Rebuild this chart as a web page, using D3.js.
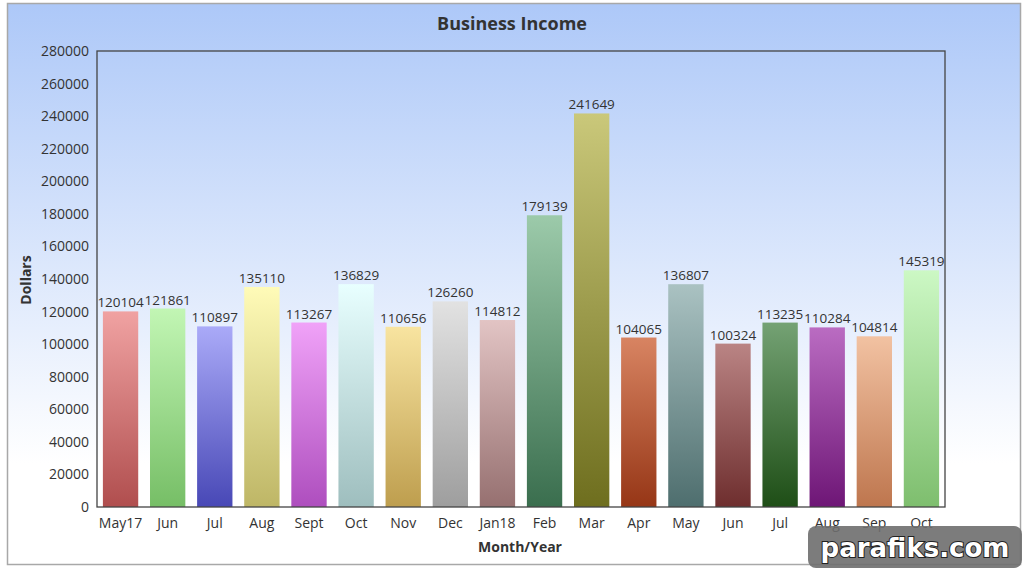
<!DOCTYPE html>
<html><head><meta charset="utf-8">
<script src="https://cdn.jsdelivr.net/npm/d3@7"></script>
<style>body{margin:0;background:#fff}svg{display:block;font-family:"Open Sans",sans-serif}</style>
</head><body><svg id="c" width="1024" height="572"></svg>
<script>
const categories = ["May17","Jun","Jul","Aug","Sept","Oct","Nov","Dec","Jan18","Feb","Mar","Apr","May","Jun","Jul","Aug","Sep","Oct"];
const values = [120104,121861,110897,135110,113267,136829,110656,126260,114812,179139,241649,104065,136807,100324,113235,110284,104814,145319];
const topColors = ["#f0a2a2","#c2f6b4","#aaaaf8","#fffbb8","#f0a2f8","#e8ffff","#f8e4a0","#e2e2e2","#e2c4c4","#9ccaaa","#cac87a","#d88462","#aac2c2","#ba8484","#74a274","#ba6cc2","#f2c2a2","#ccf8c4"];
const bottomColors = ["#b04e4e","#76be66","#4848b6","#beb666","#ae4ebe","#9ebebe","#be9e4e","#9e9e9e","#967070","#3a6e4e","#6e6e1e","#963616","#4e6e6e","#6e2e2e","#1e4e16","#6e1676","#be764e","#7ebe6e"];
const yTicks = d3.range(0, 280001, 20000);

const svg = d3.select("#c");
const m = {l:97, r:945, t:51, b:507};
const defs = svg.append("defs");
const bg = defs.append("linearGradient").attr("id","bg").attr("x1",0).attr("y1",0).attr("x2",0).attr("y2",1);
bg.append("stop").attr("offset","0%").attr("stop-color","#adc8f8");
bg.append("stop").attr("offset","82%").attr("stop-color","#ffffff");
bg.append("stop").attr("offset","100%").attr("stop-color","#ffffff");
svg.append("rect").attr("x",7.5).attr("y",3.5).attr("width",1013).attr("height",561).attr("fill","url(#bg)").attr("stroke","#a8a8a8").attr("stroke-width",1.5);

const x = d3.scaleBand().domain(d3.range(categories.length)).range([m.l, m.r]).paddingInner(0.25).paddingOuter(0.125);
const y = d3.scaleLinear().domain([0,280000]).range([m.b, m.t]);

categories.forEach((c,i)=>{
  const g = defs.append("linearGradient").attr("id","g"+i).attr("x1",0).attr("y1",0).attr("x2",0).attr("y2",1);
  g.append("stop").attr("offset","0%").attr("stop-color",topColors[i]);
  g.append("stop").attr("offset","100%").attr("stop-color",bottomColors[i]);
});

svg.append("g").selectAll("rect").data(values).join("rect")
  .attr("x",(d,i)=>x(i)).attr("width",x.bandwidth())
  .attr("y",d=>y(d)).attr("height",d=>y(0)-y(d))
  .attr("fill",(d,i)=>"url(#g"+i+")");

svg.append("g").selectAll("text").data(values).join("text")
  .attr("x",(d,i)=>x(i)+x.bandwidth()/2).attr("y",d=>y(d)-4)
  .attr("text-anchor","middle").attr("font-size",13.5).attr("fill","#333").text(d=>d);

svg.append("rect").attr("x",m.l).attr("y",m.t).attr("width",m.r-m.l).attr("height",m.b-m.t)
  .attr("fill","none").attr("stroke","#444").attr("stroke-width",1.3);

const ya = svg.append("g").attr("transform",`translate(${m.l},0)`)
  .call(d3.axisLeft(y).tickValues(yTicks).tickSize(0).tickPadding(8).tickFormat(d3.format("d")));
ya.select(".domain").remove();
ya.selectAll("text").attr("font-size",14).attr("fill","#333").attr("font-family","'Open Sans',sans-serif");

const xa = svg.append("g").attr("transform",`translate(0,${m.b})`)
  .call(d3.axisBottom(x).tickSize(0).tickPadding(11).tickFormat(i=>categories[i]));
xa.select(".domain").remove();
xa.selectAll("text").attr("font-size",14).attr("fill","#333").attr("font-family","'Open Sans',sans-serif");

svg.append("text").attr("x",512).attr("y",30).attr("text-anchor","middle").attr("font-size",18).attr("font-weight","bold").attr("fill","#333").text("Business Income");
svg.append("text").attr("x",520).attr("y",552).attr("text-anchor","middle").attr("font-size",14).attr("font-weight","bold").attr("fill","#333").text("Month/Year");
svg.append("text").attr("transform","translate(31,280) rotate(-90)").attr("text-anchor","middle").attr("font-size",14).attr("font-weight","bold").attr("fill","#333").text("Dollars");

svg.append("rect").attr("x",808).attr("y",526).attr("width",214).attr("height",42).attr("rx",8).attr("fill","#6e6e6e").attr("opacity",0.9);
svg.append("text").attr("x",915).attr("y",557).attr("text-anchor","middle").attr("font-size",26).attr("font-weight","bold")
  .attr("font-family","'DejaVu Sans',sans-serif").attr("fill","#fff").attr("stroke","#222").attr("stroke-width",2).attr("paint-order","stroke").text("parafiks.com");
</script></body></html>
